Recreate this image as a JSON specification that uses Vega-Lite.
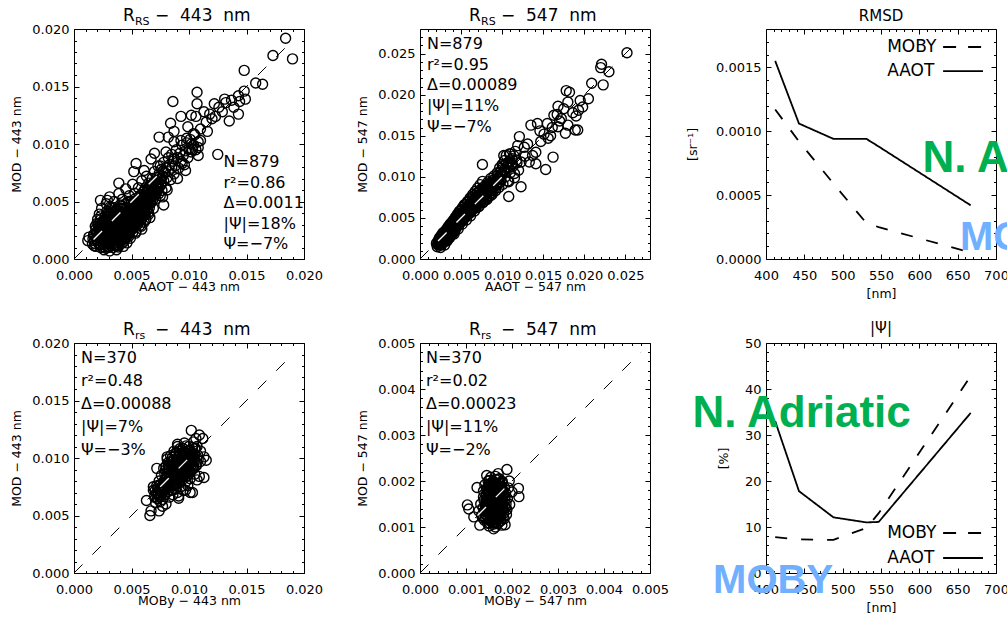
{
"$schema":"https://vega.github.io/schema/vega-lite/v6.json",
"background":"white",
"autosize":{"type":"pad"},
"padding":{"left":10,"top":6,"right":0,"bottom":0},
"config":{
 "view":{"stroke":"#000","strokeWidth":1},
 "font":"DejaVu Sans",
 "axis":{"grid":false,"domain":false,"tickColor":"#000","tickWidth":1,"labelColor":"#000","titleColor":"#000","labelFont":"DejaVu Sans","titleFont":"DejaVu Sans","labelFontSize":13,"titleFontSize":12.5,"titleFontWeight":"normal","labelOverlap":false,"labelFlush":false,"labelBound":false},
 "text":{"font":"DejaVu Sans","color":"#000"}
},
"datasets":{
"p1":[
{"x":0.0012,"y":0.0016},{"x":0.0013,"y":0.0019},{"x":0.0016,"y":0.0013},{"x":0.0017,"y":0.0021},{"x":0.0018,"y":0.0016},{"x":0.0019,"y":0.0026},{"x":0.0019,"y":0.0011},{"x":0.002,"y":0.0019},{"x":0.0021,"y":0.003},{"x":0.0021,"y":0.0014},{"x":0.0022,"y":0.0023},{"x":0.0022,"y":0.0039},{"x":0.0023,"y":0.001},{"x":0.0023,"y":0.0017},{"x":0.0024,"y":0.0027},{"x":0.0024,"y":0.0044},{"x":0.0025,"y":0.0021},{"x":0.0025,"y":0.0033},{"x":0.0026,"y":0.0013},{"x":0.0026,"y":0.0008},{"x":0.0027,"y":0.0018},{"x":0.0027,"y":0.0025},{"x":0.0027,"y":0.0037},{"x":0.0028,"y":0.0048},{"x":0.0028,"y":0.0029},{"x":0.0029,"y":0.0011},{"x":0.0029,"y":0.0021},{"x":0.003,"y":0.0016},{"x":0.003,"y":0.0033},{"x":0.003,"y":0.0041},{"x":0.0031,"y":0.0007},{"x":0.0031,"y":0.0025},{"x":0.0031,"y":0.0054},{"x":0.0032,"y":0.0019},{"x":0.0032,"y":0.0029},{"x":0.0032,"y":0.0013},{"x":0.0033,"y":0.0036},{"x":0.0033,"y":0.0045},{"x":0.0033,"y":0.0023},{"x":0.0034,"y":0.001},{"x":0.0034,"y":0.0031},{"x":0.0034,"y":0.0017},{"x":0.0035,"y":0.0027},{"x":0.0035,"y":0.004},{"x":0.0035,"y":0.005},{"x":0.0036,"y":0.0014},{"x":0.0036,"y":0.0021},{"x":0.0036,"y":0.0034},{"x":0.0037,"y":0.0008},{"x":0.0037,"y":0.0025},{"x":0.0037,"y":0.0043},{"x":0.0038,"y":0.0018},{"x":0.0038,"y":0.003},{"x":0.0038,"y":0.0037},{"x":0.0039,"y":0.0057},{"x":0.0039,"y":0.0012},{"x":0.0039,"y":0.0022},{"x":0.004,"y":0.0027},{"x":0.004,"y":0.0034},{"x":0.004,"y":0.0047},{"x":0.0041,"y":0.0016},{"x":0.0041,"y":0.0031},{"x":0.0041,"y":0.004},{"x":0.0042,"y":0.002},{"x":0.0042,"y":0.0025},{"x":0.0042,"y":0.0036},{"x":0.0042,"y":0.0052},{"x":0.0043,"y":0.0011},{"x":0.0043,"y":0.0029},{"x":0.0043,"y":0.0044},{"x":0.0044,"y":0.0018},{"x":0.0044,"y":0.0033},{"x":0.0044,"y":0.0039},{"x":0.0045,"y":0.0023},{"x":0.0045,"y":0.0048},{"x":0.0045,"y":0.0061},{"x":0.0046,"y":0.0027},{"x":0.0046,"y":0.0036},{"x":0.0046,"y":0.0014},{"x":0.0047,"y":0.0031},{"x":0.0047,"y":0.0042},{"x":0.0047,"y":0.0021},{"x":0.0048,"y":0.0038},{"x":0.0048,"y":0.0055},{"x":0.0048,"y":0.0026},{"x":0.0049,"y":0.0034},{"x":0.0049,"y":0.0045},{"x":0.0049,"y":0.0018},{"x":0.005,"y":0.003},{"x":0.005,"y":0.004},{"x":0.005,"y":0.005},{"x":0.0051,"y":0.0023},{"x":0.0051,"y":0.0036},{"x":0.0051,"y":0.0065},{"x":0.0052,"y":0.0043},{"x":0.0052,"y":0.0033},{"x":0.0052,"y":0.0028},{"x":0.0053,"y":0.0047},{"x":0.0053,"y":0.0039},{"x":0.0053,"y":0.0057},{"x":0.0054,"y":0.0031},{"x":0.0054,"y":0.0042},{"x":0.0054,"y":0.0024},{"x":0.0055,"y":0.0036},{"x":0.0055,"y":0.0051},{"x":0.0055,"y":0.0045},{"x":0.0056,"y":0.004},{"x":0.0056,"y":0.0062},{"x":0.0056,"y":0.0033},{"x":0.0057,"y":0.0048},{"x":0.0057,"y":0.0029},{"x":0.0057,"y":0.0055},{"x":0.0058,"y":0.0038},{"x":0.0058,"y":0.0044},{"x":0.0059,"y":0.0052},{"x":0.0059,"y":0.0035},{"x":0.0059,"y":0.0068},{"x":0.006,"y":0.0047},{"x":0.006,"y":0.0041},{"x":0.006,"y":0.0058},{"x":0.0061,"y":0.0032},{"x":0.0061,"y":0.005},{"x":0.0062,"y":0.0045},{"x":0.0062,"y":0.0062},{"x":0.0062,"y":0.0039},{"x":0.0063,"y":0.0054},{"x":0.0063,"y":0.0072},{"x":0.0064,"y":0.0048},{"x":0.0064,"y":0.0043},{"x":0.0064,"y":0.0059},{"x":0.0065,"y":0.0066},{"x":0.0065,"y":0.0052},{"x":0.0066,"y":0.0036},{"x":0.0066,"y":0.0057},{"x":0.0067,"y":0.0049},{"x":0.0067,"y":0.0063},{"x":0.0068,"y":0.007},{"x":0.0068,"y":0.0055},{"x":0.0069,"y":0.0044},{"x":0.0069,"y":0.006},{"x":0.007,"y":0.0067},{"x":0.007,"y":0.0076},{"x":0.0071,"y":0.0052},{"x":0.0071,"y":0.0064},{"x":0.0072,"y":0.0058},{"x":0.0072,"y":0.0071},{"x":0.0073,"y":0.0081},{"x":0.0073,"y":0.0066},{"x":0.0074,"y":0.0062},{"x":0.0074,"y":0.0074},{"x":0.0075,"y":0.0069},{"x":0.0075,"y":0.0055},{"x":0.0076,"y":0.0078},{"x":0.0076,"y":0.0065},{"x":0.0077,"y":0.0072},{"x":0.0078,"y":0.0084},{"x":0.0078,"y":0.0068},{"x":0.0079,"y":0.0075},{"x":0.008,"y":0.0062},{"x":0.008,"y":0.0079},{"x":0.0081,"y":0.0071},{"x":0.0082,"y":0.0088},{"x":0.0082,"y":0.0076},{"x":0.0083,"y":0.0082},{"x":0.0084,"y":0.0069},{"x":0.0085,"y":0.0079},{"x":0.0085,"y":0.0091},{"x":0.0086,"y":0.0085},{"x":0.0087,"y":0.0074},{"x":0.0088,"y":0.0081},{"x":0.0089,"y":0.0095},{"x":0.009,"y":0.0088},{"x":0.0091,"y":0.0079},{"x":0.0092,"y":0.0092},{"x":0.0093,"y":0.0085},{"x":0.0094,"y":0.0099},{"x":0.0095,"y":0.009},{"x":0.0096,"y":0.0082},{"x":0.0097,"y":0.0094},{"x":0.0098,"y":0.0101},{"x":0.0099,"y":0.0088},{"x":0.01,"y":0.0096},{"x":0.0101,"y":0.0104},{"x":0.0102,"y":0.0093},{"x":0.0104,"y":0.0099},{"x":0.0105,"y":0.0108},{"x":0.0106,"y":0.0095},{"x":0.0108,"y":0.0102},
{"x":0.0018,"y":0.0021},{"x":0.002,"y":0.0024},{"x":0.002,"y":0.0031},{"x":0.0022,"y":0.0027},{"x":0.0023,"y":0.0034},{"x":0.0024,"y":0.0015},{"x":0.0025,"y":0.0028},{"x":0.0026,"y":0.0019},{"x":0.0026,"y":0.0023},{"x":0.0027,"y":0.0031},{"x":0.0027,"y":0.0012},{"x":0.0028,"y":0.0016},{"x":0.0028,"y":0.0035},{"x":0.0028,"y":0.0022},{"x":0.0029,"y":0.0027},{"x":0.0029,"y":0.0039},{"x":0.003,"y":0.002},{"x":0.003,"y":0.001},{"x":0.0031,"y":0.003},{"x":0.0031,"y":0.0017},{"x":0.0031,"y":0.0045},{"x":0.0032,"y":0.0034},{"x":0.0032,"y":0.0024},{"x":0.0033,"y":0.0015},{"x":0.0033,"y":0.0028},{"x":0.0034,"y":0.0041},{"x":0.0034,"y":0.002},{"x":0.0035,"y":0.0024},{"x":0.0035,"y":0.0031},{"x":0.0035,"y":0.0012},{"x":0.0036,"y":0.0038},{"x":0.0036,"y":0.0028},{"x":0.0037,"y":0.0016},{"x":0.0037,"y":0.0033},{"x":0.0037,"y":0.002},{"x":0.0038,"y":0.0026},{"x":0.0038,"y":0.0042},{"x":0.0039,"y":0.003},{"x":0.0039,"y":0.0035},{"x":0.0039,"y":0.0017},{"x":0.004,"y":0.0021},{"x":0.004,"y":0.0039},{"x":0.0041,"y":0.0024},{"x":0.0041,"y":0.0035},{"x":0.0041,"y":0.0046},{"x":0.0042,"y":0.0029},{"x":0.0042,"y":0.0014},{"x":0.0043,"y":0.0032},{"x":0.0043,"y":0.0038},{"x":0.0043,"y":0.0022},{"x":0.0044,"y":0.0026},{"x":0.0044,"y":0.0042},{"x":0.0045,"y":0.003},{"x":0.0045,"y":0.0035},{"x":0.0045,"y":0.0018},{"x":0.0046,"y":0.004},{"x":0.0046,"y":0.0032},{"x":0.0047,"y":0.0024},{"x":0.0047,"y":0.0036},{"x":0.0047,"y":0.005},{"x":0.0048,"y":0.0029},{"x":0.0048,"y":0.0034},{"x":0.0048,"y":0.0043},{"x":0.0049,"y":0.0038},{"x":0.0049,"y":0.0025},{"x":0.005,"y":0.0033},{"x":0.005,"y":0.0046},{"x":0.0051,"y":0.0028},{"x":0.0051,"y":0.0041},{"x":0.0052,"y":0.0037},{"x":0.0052,"y":0.005},{"x":0.0053,"y":0.0034},{"x":0.0053,"y":0.0029},{"x":0.0054,"y":0.0045},{"x":0.0054,"y":0.0038},{"x":0.0055,"y":0.0041},{"x":0.0055,"y":0.0032},{"x":0.0056,"y":0.0046},{"x":0.0056,"y":0.0052},{"x":0.0057,"y":0.0036},{"x":0.0057,"y":0.0042},{"x":0.0058,"y":0.0049},{"x":0.0058,"y":0.0034},{"x":0.0059,"y":0.0043},{"x":0.0059,"y":0.0056},{"x":0.006,"y":0.0038},{"x":0.006,"y":0.0052},{"x":0.0061,"y":0.0046},{"x":0.0061,"y":0.0059},{"x":0.0062,"y":0.0049},{"x":0.0063,"y":0.0043},{"x":0.0063,"y":0.0058},{"x":0.0064,"y":0.0053},{"x":0.0065,"y":0.0047},{"x":0.0065,"y":0.0061},{"x":0.0066,"y":0.0053},{"x":0.0067,"y":0.0058},{"x":0.0068,"y":0.0062},{"x":0.0069,"y":0.0066},
{"x":0.00165,"y":0.00175},{"x":0.00185,"y":0.00135},{"x":0.00195,"y":0.00225},{"x":0.00205,"y":0.00165},{"x":0.00215,"y":0.00255},{"x":0.00225,"y":0.00125},{"x":0.00235,"y":0.00195},{"x":0.00245,"y":0.00305},{"x":0.00255,"y":0.00155},{"x":0.00265,"y":0.00245},{"x":0.00275,"y":0.00095},{"x":0.00285,"y":0.00185},{"x":0.00295,"y":0.00275},{"x":0.00305,"y":0.00365},{"x":0.00315,"y":0.00135},{"x":0.00325,"y":0.00215},{"x":0.00335,"y":0.00305},{"x":0.00345,"y":0.00385},{"x":0.00355,"y":0.00165},{"x":0.00365,"y":0.00245},{"x":0.00375,"y":0.00345},{"x":0.00385,"y":0.00105},{"x":0.00395,"y":0.00265},{"x":0.00405,"y":0.00185},{"x":0.00415,"y":0.00375},{"x":0.00425,"y":0.00275},{"x":0.00435,"y":0.00155},{"x":0.00445,"y":0.00355},{"x":0.00455,"y":0.00255},{"x":0.00465,"y":0.00445},{"x":0.00475,"y":0.00195},{"x":0.00485,"y":0.00315},{"x":0.00495,"y":0.00415},{"x":0.00505,"y":0.00265},{"x":0.00515,"y":0.00485},{"x":0.00525,"y":0.00365},{"x":0.00535,"y":0.00225},{"x":0.00545,"y":0.00435},{"x":0.00555,"y":0.00305},{"x":0.00565,"y":0.00505},{"x":0.00575,"y":0.00395},{"x":0.00585,"y":0.00285},{"x":0.00595,"y":0.00475},{"x":0.00605,"y":0.00545},{"x":0.00615,"y":0.00425},{"x":0.00625,"y":0.00345},{"x":0.00635,"y":0.00515},{"x":0.00645,"y":0.00605},{"x":0.00655,"y":0.00445},{"x":0.00665,"y":0.00545},
{"x":0.00175,"y":0.00115},{"x":0.00185,"y":0.00285},{"x":0.00205,"y":0.00345},{"x":0.00215,"y":0.00195},{"x":0.00225,"y":0.00295},{"x":0.00235,"y":0.00375},{"x":0.00245,"y":0.00235},{"x":0.00255,"y":0.00105},{"x":0.00265,"y":0.00335},{"x":0.00275,"y":0.00205},{"x":0.00285,"y":0.00415},{"x":0.00295,"y":0.00135},{"x":0.00305,"y":0.00245},{"x":0.00315,"y":0.00325},{"x":0.00325,"y":0.00405},{"x":0.00335,"y":0.00185},{"x":0.00345,"y":0.00265},{"x":0.00355,"y":0.00445},{"x":0.00365,"y":0.00115},{"x":0.00375,"y":0.00285},{"x":0.00385,"y":0.00395},{"x":0.00395,"y":0.00205},{"x":0.00405,"y":0.00325},{"x":0.00415,"y":0.00435},{"x":0.00425,"y":0.00225},{"x":0.00435,"y":0.00345},{"x":0.00445,"y":0.00285},{"x":0.00455,"y":0.00385},{"x":0.00465,"y":0.00225},{"x":0.00475,"y":0.00335},{"x":0.00485,"y":0.00495},{"x":0.00495,"y":0.00285},{"x":0.00505,"y":0.00375},{"x":0.00515,"y":0.00315},{"x":0.00525,"y":0.00435},{"x":0.00535,"y":0.00525},{"x":0.00545,"y":0.00345},{"x":0.00555,"y":0.00395},{"x":0.00565,"y":0.00455},{"x":0.00575,"y":0.00335},{"x":0.00585,"y":0.00525},{"x":0.00595,"y":0.00405},{"x":0.00605,"y":0.00455},{"x":0.00615,"y":0.00385},{"x":0.00625,"y":0.00555},{"x":0.00635,"y":0.00465},{"x":0.00645,"y":0.00405},{"x":0.00655,"y":0.00625},{"x":0.00665,"y":0.00495},{"x":0.00675,"y":0.00575},{"x":0.00685,"y":0.00515},{"x":0.00695,"y":0.00615},{"x":0.00705,"y":0.00555},{"x":0.00715,"y":0.00685},{"x":0.00725,"y":0.00615},{"x":0.00735,"y":0.00565},{"x":0.00745,"y":0.00715},{"x":0.00755,"y":0.00645},{"x":0.00765,"y":0.00595},{"x":0.00775,"y":0.00765},
{"x":0.00255,"y":0.00205},{"x":0.00265,"y":0.00285},{"x":0.00275,"y":0.00165},{"x":0.00285,"y":0.00255},{"x":0.00295,"y":0.00325},{"x":0.00305,"y":0.00195},{"x":0.00315,"y":0.00285},{"x":0.00325,"y":0.00165},{"x":0.00335,"y":0.00255},{"x":0.00345,"y":0.00345},{"x":0.00355,"y":0.00205},{"x":0.00365,"y":0.00295},{"x":0.00375,"y":0.00225},{"x":0.00385,"y":0.00325},{"x":0.00395,"y":0.00145},{"x":0.00405,"y":0.00245},{"x":0.00415,"y":0.00305},{"x":0.00425,"y":0.00195},{"x":0.00435,"y":0.00265},{"x":0.00445,"y":0.00215},{"x":0.00455,"y":0.00325},{"x":0.00465,"y":0.00295},{"x":0.00475,"y":0.00395},{"x":0.00485,"y":0.00235},{"x":0.00495,"y":0.00345},{"x":0.00505,"y":0.00425},{"x":0.00515,"y":0.00265},{"x":0.00525,"y":0.00325},{"x":0.00535,"y":0.00385},{"x":0.00545,"y":0.00475},{"x":0.00555,"y":0.00355},{"x":0.00565,"y":0.00415},{"x":0.00575,"y":0.00465},{"x":0.00585,"y":0.00375},{"x":0.00595,"y":0.00435},
{"x":0.0021,"y":0.002},{"x":0.0023,"y":0.0022},{"x":0.0024,"y":0.0018},{"x":0.0025,"y":0.0025},{"x":0.0026,"y":0.0021},{"x":0.0027,"y":0.0016},{"x":0.0028,"y":0.0026},{"x":0.0029,"y":0.0018},{"x":0.003,"y":0.0024},{"x":0.0031,"y":0.0021},{"x":0.0032,"y":0.0016},{"x":0.0032,"y":0.0027},{"x":0.0033,"y":0.0032},{"x":0.0034,"y":0.0025},{"x":0.0034,"y":0.0013},{"x":0.0035,"y":0.0019},{"x":0.0035,"y":0.0029},{"x":0.0036,"y":0.0024},{"x":0.0037,"y":0.003},{"x":0.0037,"y":0.0012},{"x":0.0038,"y":0.0022},{"x":0.0038,"y":0.0034},{"x":0.0039,"y":0.0027},{"x":0.004,"y":0.0024},{"x":0.004,"y":0.0031},{"x":0.0041,"y":0.002},{"x":0.0041,"y":0.0028},{"x":0.0042,"y":0.0033},{"x":0.0043,"y":0.0026},{"x":0.0043,"y":0.0017},{"x":0.0044,"y":0.003},{"x":0.0044,"y":0.0036},{"x":0.0045,"y":0.0027},{"x":0.0046,"y":0.003},{"x":0.0046,"y":0.0021},{"x":0.0047,"y":0.0034},{"x":0.0047,"y":0.0028},{"x":0.0048,"y":0.0032},{"x":0.0049,"y":0.0029},{"x":0.0049,"y":0.0041},{"x":0.005,"y":0.0036},{"x":0.005,"y":0.0026},{"x":0.0051,"y":0.0032},{"x":0.0052,"y":0.004},{"x":0.0053,"y":0.0043},{"x":0.0054,"y":0.0035},{"x":0.0055,"y":0.0048},{"x":0.0056,"y":0.0037},{"x":0.0057,"y":0.0045},{"x":0.0058,"y":0.0041},{"x":0.006,"y":0.0044},{"x":0.0061,"y":0.004},{"x":0.0062,"y":0.0052},{"x":0.0064,"y":0.005},{"x":0.0066,"y":0.0049},{"x":0.0068,"y":0.0058},{"x":0.007,"y":0.006},{"x":0.0072,"y":0.0063},{"x":0.0074,"y":0.0067},{"x":0.0076,"y":0.007},
{"x":0.0184,"y":0.0192},{"x":0.019,"y":0.0174},{"x":0.0173,"y":0.0177},{"x":0.0148,"y":0.0164},{"x":0.0158,"y":0.0153},{"x":0.0164,"y":0.0152},{"x":0.0148,"y":0.0146},{"x":0.0143,"y":0.0142},{"x":0.0149,"y":0.0139},{"x":0.0144,"y":0.0137},{"x":0.0131,"y":0.0139},{"x":0.0132,"y":0.0136},{"x":0.0139,"y":0.0132},{"x":0.0143,"y":0.0126},{"x":0.0135,"y":0.012},{"x":0.0126,"y":0.0132},{"x":0.0122,"y":0.0135},{"x":0.0118,"y":0.0126},{"x":0.0123,"y":0.0124},{"x":0.0115,"y":0.0119},{"x":0.0107,"y":0.0145},{"x":0.0107,"y":0.0135},{"x":0.0086,"y":0.0137},{"x":0.0102,"y":0.0125},{"x":0.0093,"y":0.0124},{"x":0.0084,"y":0.0118},{"x":0.0087,"y":0.0111},{"x":0.0099,"y":0.0115},{"x":0.0106,"y":0.0124},{"x":0.0104,"y":0.0109},{"x":0.011,"y":0.0113},{"x":0.011,"y":0.0103},{"x":0.0108,"y":0.0097},{"x":0.0102,"y":0.01},{"x":0.0098,"y":0.0105},{"x":0.0093,"y":0.0103},{"x":0.0074,"y":0.0106},{"x":0.0082,"y":0.0106},{"x":0.0087,"y":0.0102},{"x":0.0125,"y":0.0091},{"x":0.0108,"y":0.009},{"x":0.0103,"y":0.0095},{"x":0.007,"y":0.0092},{"x":0.0054,"y":0.0083},{"x":0.009,"y":0.007},{"x":0.0097,"y":0.0077},{"x":0.0094,"y":0.0083},{"x":0.0077,"y":0.0054},{"x":0.0078,"y":0.0047},{"x":0.0071,"y":0.0057},{"x":0.0072,"y":0.0066},{"x":0.0081,"y":0.006},{"x":0.0065,"y":0.0039},{"x":0.0062,"y":0.0034},{"x":0.0059,"y":0.0026},{"x":0.0052,"y":0.0076},{"x":0.0061,"y":0.0077},{"x":0.0067,"y":0.0087},{"x":0.008,"y":0.0093},{"x":0.0075,"y":0.0081},{"x":0.0087,"y":0.0087},{"x":0.0039,"y":0.0066},{"x":0.0023,"y":0.0051},{"x":0.0029,"y":0.0051},{"x":0.0113,"y":0.0128},{"x":0.0129,"y":0.0128},{"x":0.0137,"y":0.0138},{"x":0.0116,"y":0.0111},{"x":0.012,"y":0.0122}
],
"p2":[
{"x":0.002,"y":0.0019},{"x":0.0021,"y":0.0015},{"x":0.0022,"y":0.0022},{"x":0.0023,"y":0.0017},{"x":0.0024,"y":0.0026},{"x":0.0024,"y":0.002},{"x":0.0025,"y":0.0014},{"x":0.0026,"y":0.0023},{"x":0.0026,"y":0.0029},{"x":0.0027,"y":0.0019},{"x":0.0028,"y":0.0025},{"x":0.0028,"y":0.0032},{"x":0.0029,"y":0.0021},{"x":0.003,"y":0.0028},{"x":0.003,"y":0.0017},{"x":0.0031,"y":0.0034},{"x":0.0031,"y":0.0024},{"x":0.0032,"y":0.003},{"x":0.0033,"y":0.0022},{"x":0.0033,"y":0.0037},{"x":0.0034,"y":0.0027},{"x":0.0034,"y":0.0033},{"x":0.0035,"y":0.0025},{"x":0.0035,"y":0.004},{"x":0.0036,"y":0.003},{"x":0.0036,"y":0.0036},{"x":0.0037,"y":0.0028},{"x":0.0037,"y":0.0043},{"x":0.0038,"y":0.0033},{"x":0.0038,"y":0.0039},{"x":0.0039,"y":0.0031},{"x":0.004,"y":0.0036},{"x":0.004,"y":0.0046},{"x":0.0041,"y":0.0041},{"x":0.0041,"y":0.0033},{"x":0.0042,"y":0.0038},{"x":0.0042,"y":0.0049},{"x":0.0043,"y":0.0044},{"x":0.0043,"y":0.0036},{"x":0.0044,"y":0.0041},{"x":0.0044,"y":0.0052},{"x":0.0045,"y":0.0047},{"x":0.0045,"y":0.0039},{"x":0.0046,"y":0.0044},{"x":0.0046,"y":0.0055},{"x":0.0047,"y":0.0049},{"x":0.0047,"y":0.0041},{"x":0.0048,"y":0.0046},{"x":0.0048,"y":0.0058},{"x":0.0049,"y":0.0052},{"x":0.0049,"y":0.0044},{"x":0.005,"y":0.0049},{"x":0.005,"y":0.006},{"x":0.0051,"y":0.0055},{"x":0.0051,"y":0.0046},{"x":0.0052,"y":0.0051},{"x":0.0052,"y":0.0063},{"x":0.0053,"y":0.0057},{"x":0.0053,"y":0.0048},{"x":0.0054,"y":0.0054},{"x":0.0054,"y":0.0066},{"x":0.0055,"y":0.006},{"x":0.0055,"y":0.0051},{"x":0.0056,"y":0.0056},{"x":0.0057,"y":0.0062},{"x":0.0057,"y":0.0053},{"x":0.0058,"y":0.0069},{"x":0.0058,"y":0.0058},{"x":0.0059,"y":0.0064},{"x":0.006,"y":0.0055},{"x":0.006,"y":0.0061},{"x":0.0061,"y":0.0072},{"x":0.0061,"y":0.0066},{"x":0.0062,"y":0.0058},{"x":0.0063,"y":0.0063},{"x":0.0063,"y":0.0069},{"x":0.0064,"y":0.0075},{"x":0.0064,"y":0.006},{"x":0.0065,"y":0.0066},{"x":0.0066,"y":0.0071},{"x":0.0066,"y":0.0063},{"x":0.0067,"y":0.0078},{"x":0.0068,"y":0.0068},{"x":0.0068,"y":0.0062},{"x":0.0069,"y":0.0074},{"x":0.007,"y":0.0066},{"x":0.007,"y":0.0081},{"x":0.0071,"y":0.0071},{"x":0.0072,"y":0.0077},{"x":0.0072,"y":0.0065},{"x":0.0073,"y":0.0084},{"x":0.0074,"y":0.0073},{"x":0.0074,"y":0.0069},{"x":0.0075,"y":0.008},{"x":0.0076,"y":0.0076},{"x":0.0077,"y":0.0087},{"x":0.0077,"y":0.007},{"x":0.0078,"y":0.0082},{"x":0.0079,"y":0.0078},{"x":0.008,"y":0.009},{"x":0.008,"y":0.0073},{"x":0.0081,"y":0.0085},{"x":0.0082,"y":0.008},{"x":0.0083,"y":0.0094},{"x":0.0084,"y":0.0076},{"x":0.0084,"y":0.0088},{"x":0.0085,"y":0.0083},{"x":0.0086,"y":0.0098},{"x":0.0087,"y":0.0091},{"x":0.0088,"y":0.0079},{"x":0.0089,"y":0.0086},{"x":0.009,"y":0.0101},{"x":0.0091,"y":0.0094},{"x":0.0092,"y":0.0083},{"x":0.0093,"y":0.009},{"x":0.0094,"y":0.0105},{"x":0.0095,"y":0.0097},{"x":0.0096,"y":0.0087},{"x":0.0097,"y":0.0111},{"x":0.0098,"y":0.0094},{"x":0.0099,"y":0.0103},{"x":0.01,"y":0.0115},{"x":0.0101,"y":0.0091},{"x":0.0102,"y":0.0108},{"x":0.0103,"y":0.012},{"x":0.0104,"y":0.01},{"x":0.0105,"y":0.0126},{"x":0.0106,"y":0.0112},{"x":0.0107,"y":0.0095},{"x":0.0108,"y":0.0118},{"x":0.0109,"y":0.0128},{"x":0.011,"y":0.0105},{"x":0.0112,"y":0.0122},{"x":0.0113,"y":0.0113},{"x":0.0115,"y":0.0099},{"x":0.0116,"y":0.0131},{"x":0.0118,"y":0.0117},{"x":0.012,"y":0.0108},
{"x":0.0022,"y":0.0019},{"x":0.0023,"y":0.0024},{"x":0.0025,"y":0.0021},{"x":0.0026,"y":0.0017},{"x":0.0027,"y":0.0027},{"x":0.0029,"y":0.0024},{"x":0.0029,"y":0.003},{"x":0.003,"y":0.0022},{"x":0.0032,"y":0.0026},{"x":0.0032,"y":0.0035},{"x":0.0033,"y":0.0029},{"x":0.0035,"y":0.0032},{"x":0.0036,"y":0.0027},{"x":0.0037,"y":0.0037},{"x":0.0038,"y":0.003},{"x":0.0039,"y":0.0042},{"x":0.004,"y":0.0034},{"x":0.0041,"y":0.0038},{"x":0.0042,"y":0.0044},{"x":0.0043,"y":0.004},{"x":0.0044,"y":0.0047},{"x":0.0045,"y":0.0043},{"x":0.0046,"y":0.005},{"x":0.0047,"y":0.0045},{"x":0.0048,"y":0.0052},{"x":0.0049,"y":0.0048},{"x":0.005,"y":0.0054},{"x":0.0051,"y":0.005},{"x":0.0052,"y":0.0057},{"x":0.0053,"y":0.0053},{"x":0.0054,"y":0.0059},{"x":0.0055,"y":0.0056},{"x":0.0056,"y":0.0062},{"x":0.0057,"y":0.0058},{"x":0.0058,"y":0.0064},{"x":0.0059,"y":0.006},{"x":0.006,"y":0.0067},{"x":0.0061,"y":0.0062},{"x":0.0062,"y":0.0069},{"x":0.0063,"y":0.0065},{"x":0.0065,"y":0.0071},{"x":0.0066,"y":0.0068},{"x":0.0067,"y":0.0073},{"x":0.0069,"y":0.007},{"x":0.007,"y":0.0076},{"x":0.0071,"y":0.0068},{"x":0.0072,"y":0.0074},{"x":0.0074,"y":0.0078},{"x":0.0075,"y":0.0074},{"x":0.0076,"y":0.0083},{"x":0.0078,"y":0.0077},{"x":0.0079,"y":0.0084},{"x":0.0081,"y":0.0079},{"x":0.0082,"y":0.0089},{"x":0.0083,"y":0.0085},{"x":0.0085,"y":0.0092},{"x":0.0087,"y":0.0087},{"x":0.0089,"y":0.0096},
{"x":0.00215,"y":0.00175},{"x":0.00235,"y":0.00225},{"x":0.00245,"y":0.00175},{"x":0.00255,"y":0.00245},{"x":0.00265,"y":0.00205},{"x":0.00275,"y":0.00275},{"x":0.00285,"y":0.00215},{"x":0.00295,"y":0.00265},{"x":0.00305,"y":0.00315},{"x":0.00315,"y":0.00255},{"x":0.00325,"y":0.00305},{"x":0.00335,"y":0.00245},{"x":0.00345,"y":0.00355},{"x":0.00355,"y":0.00295},{"x":0.00365,"y":0.00335},{"x":0.00375,"y":0.00395},{"x":0.00385,"y":0.00355},{"x":0.00395,"y":0.00305},{"x":0.00405,"y":0.00415},{"x":0.00415,"y":0.00365},{"x":0.00425,"y":0.00405},{"x":0.00435,"y":0.00465},{"x":0.00445,"y":0.00395},{"x":0.00455,"y":0.00435},{"x":0.00465,"y":0.00495},{"x":0.00475,"y":0.00425},{"x":0.00485,"y":0.00485},{"x":0.00495,"y":0.00535},{"x":0.00505,"y":0.00465},{"x":0.00515,"y":0.00525},{"x":0.00525,"y":0.00485},{"x":0.00535,"y":0.00565},{"x":0.00545,"y":0.00505},{"x":0.00555,"y":0.00575},{"x":0.00565,"y":0.00535},{"x":0.00575,"y":0.00615},{"x":0.00585,"y":0.00555},{"x":0.00595,"y":0.00595},{"x":0.00605,"y":0.00645},{"x":0.00615,"y":0.00595},{"x":0.00625,"y":0.00635},{"x":0.00635,"y":0.00685},{"x":0.00645,"y":0.00625},{"x":0.00655,"y":0.00695},{"x":0.00665,"y":0.00655},{"x":0.00675,"y":0.00705},{"x":0.00685,"y":0.00655},{"x":0.00695,"y":0.00745},{"x":0.00705,"y":0.00715},{"x":0.00715,"y":0.00755},{"x":0.00725,"y":0.00705},{"x":0.00735,"y":0.00795},{"x":0.00745,"y":0.00755},{"x":0.00755,"y":0.00815},{"x":0.00765,"y":0.00735},{"x":0.00775,"y":0.00805},{"x":0.00785,"y":0.00855},{"x":0.00795,"y":0.00785},{"x":0.00805,"y":0.00845},{"x":0.00815,"y":0.00765},{"x":0.00825,"y":0.00865},{"x":0.00835,"y":0.00815},{"x":0.00845,"y":0.00905},{"x":0.00855,"y":0.00865},{"x":0.00865,"y":0.00805},{"x":0.00875,"y":0.00935},{"x":0.00885,"y":0.00875},{"x":0.00895,"y":0.00925},{"x":0.00905,"y":0.00845},{"x":0.00915,"y":0.00975},{"x":0.00925,"y":0.00895},{"x":0.00935,"y":0.00955},{"x":0.00945,"y":0.01015},{"x":0.00955,"y":0.00915},{"x":0.00965,"y":0.00995},{"x":0.00975,"y":0.01055},{"x":0.00985,"y":0.00975},{"x":0.00995,"y":0.01085},{"x":0.01005,"y":0.01035},{"x":0.01015,"y":0.01135},{"x":0.01035,"y":0.01065},{"x":0.01055,"y":0.01165},{"x":0.01075,"y":0.01105},{"x":0.01095,"y":0.01195},{"x":0.01125,"y":0.01155},{"x":0.01145,"y":0.01255},{"x":0.01175,"y":0.01205},{"x":0.00282,"y":0.00305},{"x":0.00312,"y":0.00345},{"x":0.00342,"y":0.00385},{"x":0.00372,"y":0.00425},{"x":0.00402,"y":0.00465},{"x":0.00432,"y":0.00505},{"x":0.00462,"y":0.00545},{"x":0.00492,"y":0.00585},{"x":0.00522,"y":0.00625},{"x":0.00552,"y":0.00665},{"x":0.00582,"y":0.00705},{"x":0.00612,"y":0.00745},{"x":0.00642,"y":0.00785},{"x":0.00672,"y":0.00825},{"x":0.00702,"y":0.00865},{"x":0.00732,"y":0.00905},{"x":0.00762,"y":0.00945},{"x":0.00315,"y":0.00225},{"x":0.00365,"y":0.00265},{"x":0.00415,"y":0.00305},{"x":0.00465,"y":0.00365},{"x":0.00515,"y":0.00425},{"x":0.00565,"y":0.00475},{"x":0.00615,"y":0.00525},{"x":0.00665,"y":0.00585},{"x":0.00715,"y":0.00635},{"x":0.00765,"y":0.00685},{"x":0.00815,"y":0.00725},{"x":0.00865,"y":0.00775},
{"x":0.0023,"y":0.002},{"x":0.0025,"y":0.0023},{"x":0.0027,"y":0.0022},{"x":0.0028,"y":0.0028},{"x":0.003,"y":0.0025},{"x":0.0031,"y":0.0029},{"x":0.0033,"y":0.0027},{"x":0.0034,"y":0.003},{"x":0.0036,"y":0.0033},{"x":0.0037,"y":0.0031},{"x":0.0039,"y":0.0036},{"x":0.004,"y":0.0039},{"x":0.0042,"y":0.0041},{"x":0.0043,"y":0.0038},{"x":0.0045,"y":0.0045},{"x":0.0046,"y":0.0042},{"x":0.0048,"y":0.0049},{"x":0.0049,"y":0.0046},{"x":0.0051,"y":0.0052},{"x":0.0052,"y":0.0049},{"x":0.0054,"y":0.0056},{"x":0.0055,"y":0.0053},{"x":0.0057,"y":0.006},{"x":0.0058,"y":0.0056},{"x":0.006,"y":0.0063},{"x":0.0061,"y":0.0059},{"x":0.0063,"y":0.0067},{"x":0.0064,"y":0.0063},{"x":0.0066,"y":0.0069},{"x":0.0067,"y":0.0066},{"x":0.0069,"y":0.0072},{"x":0.007,"y":0.007},{"x":0.0072,"y":0.0076},{"x":0.0073,"y":0.0072},{"x":0.0075,"y":0.0078},{"x":0.0077,"y":0.008},{"x":0.008,"y":0.0083},{"x":0.0083,"y":0.0087},{"x":0.0086,"y":0.009},{"x":0.009,"y":0.0093},
{"x":0.0252,"y":0.0251},{"x":0.0221,"y":0.0237},{"x":0.022,"y":0.0233},{"x":0.023,"y":0.0228},{"x":0.0223,"y":0.0212},{"x":0.0209,"y":0.0214},{"x":0.0205,"y":0.0195},{"x":0.0193,"y":0.0181},{"x":0.0189,"y":0.0157},{"x":0.0192,"y":0.0157},{"x":0.0178,"y":0.0205},{"x":0.0182,"y":0.0203},{"x":0.018,"y":0.0191},{"x":0.0168,"y":0.0186},{"x":0.0198,"y":0.0185},{"x":0.019,"y":0.0174},{"x":0.0172,"y":0.0171},{"x":0.0163,"y":0.0175},{"x":0.0155,"y":0.0165},{"x":0.0168,"y":0.0161},{"x":0.0177,"y":0.0153},{"x":0.018,"y":0.0163},{"x":0.0143,"y":0.0165},{"x":0.0135,"y":0.0163},{"x":0.0151,"y":0.0152},{"x":0.0147,"y":0.0143},{"x":0.0162,"y":0.0124},{"x":0.0153,"y":0.0109},{"x":0.0141,"y":0.013},{"x":0.0133,"y":0.0118},{"x":0.0123,"y":0.0118},{"x":0.0121,"y":0.0149},{"x":0.0119,"y":0.0138},{"x":0.0127,"y":0.0136},{"x":0.0141,"y":0.0116},{"x":0.0123,"y":0.0088},{"x":0.0108,"y":0.0076},{"x":0.0076,"y":0.0115},{"x":0.0115,"y":0.0104},{"x":0.011,"y":0.0128},{"x":0.0102,"y":0.0126},{"x":0.0108,"y":0.0094},{"x":0.0159,"y":0.015},{"x":0.017,"y":0.0168},{"x":0.0186,"y":0.0178},{"x":0.0161,"y":0.016},{"x":0.0131,"y":0.014},{"x":0.0137,"y":0.0126},{"x":0.0128,"y":0.0125},{"x":0.0146,"y":0.0156},{"x":0.0156,"y":0.0147},{"x":0.0175,"y":0.0183},{"x":0.0195,"y":0.0193},{"x":0.0167,"y":0.0176}
],
"p4":[
{"x":0.0066,"y":0.005},{"x":0.0067,"y":0.0054},{"x":0.0063,"y":0.0063},{"x":0.0074,"y":0.0054},{"x":0.0069,"y":0.0072},{"x":0.007,"y":0.0066},{"x":0.0071,"y":0.0061},{"x":0.0072,"y":0.007},{"x":0.0072,"y":0.0076},{"x":0.0073,"y":0.0065},{"x":0.0074,"y":0.0072},{"x":0.0074,"y":0.008},{"x":0.0075,"y":0.0062},{"x":0.0075,"y":0.0068},{"x":0.0076,"y":0.0075},{"x":0.0076,"y":0.0085},{"x":0.0077,"y":0.0071},{"x":0.0077,"y":0.0064},{"x":0.0078,"y":0.0079},{"x":0.0078,"y":0.0091},{"x":0.0079,"y":0.0068},{"x":0.0079,"y":0.0074},{"x":0.008,"y":0.0083},{"x":0.008,"y":0.006},{"x":0.0081,"y":0.0077},{"x":0.0081,"y":0.0099},{"x":0.0081,"y":0.0088},{"x":0.0082,"y":0.0071},{"x":0.0082,"y":0.0081},{"x":0.0083,"y":0.0066},{"x":0.0083,"y":0.0093},{"x":0.0083,"y":0.0076},{"x":0.0084,"y":0.0085},{"x":0.0084,"y":0.0102},{"x":0.0085,"y":0.0072},{"x":0.0085,"y":0.008},{"x":0.0085,"y":0.009},{"x":0.0086,"y":0.0097},{"x":0.0086,"y":0.0068},{"x":0.0087,"y":0.0084},{"x":0.0087,"y":0.0077},{"x":0.0087,"y":0.0106},{"x":0.0088,"y":0.0093},{"x":0.0088,"y":0.0088},{"x":0.0088,"y":0.0073},{"x":0.0089,"y":0.0081},{"x":0.0089,"y":0.0099},{"x":0.009,"y":0.0086},{"x":0.009,"y":0.011},{"x":0.009,"y":0.007},{"x":0.0091,"y":0.0078},{"x":0.0091,"y":0.0092},{"x":0.0091,"y":0.0067},{"x":0.0092,"y":0.0084},{"x":0.0092,"y":0.0103},{"x":0.0093,"y":0.0096},{"x":0.0093,"y":0.0075},{"x":0.0093,"y":0.0089},{"x":0.0094,"y":0.0081},{"x":0.0094,"y":0.0107},{"x":0.0095,"y":0.0093},{"x":0.0095,"y":0.01},{"x":0.0095,"y":0.0072},{"x":0.0096,"y":0.0086},{"x":0.0096,"y":0.0113},{"x":0.0097,"y":0.0079},{"x":0.0097,"y":0.0097},{"x":0.0097,"y":0.009},{"x":0.0098,"y":0.0104},{"x":0.0098,"y":0.0084},{"x":0.0099,"y":0.0094},{"x":0.0099,"y":0.0076},{"x":0.01,"y":0.01},{"x":0.01,"y":0.011},{"x":0.01,"y":0.0088},{"x":0.0101,"y":0.0082},{"x":0.0101,"y":0.0096},{"x":0.0102,"y":0.0124},{"x":0.0102,"y":0.0105},{"x":0.0103,"y":0.0091},{"x":0.0103,"y":0.007},{"x":0.0104,"y":0.0099},{"x":0.0104,"y":0.0114},{"x":0.0105,"y":0.0086},{"x":0.0105,"y":0.0103},{"x":0.0106,"y":0.0117},{"x":0.0106,"y":0.0094},{"x":0.0107,"y":0.011},{"x":0.0107,"y":0.0081},{"x":0.0108,"y":0.0099},{"x":0.0109,"y":0.012},{"x":0.0109,"y":0.0084},{"x":0.011,"y":0.0097},{"x":0.011,"y":0.0106},{"x":0.0112,"y":0.0117},{"x":0.0113,"y":0.0101},{"x":0.0115,"y":0.0098},{"x":0.0081,"y":0.0101},{"x":0.009,"y":0.0112},{"x":0.0072,"y":0.0091},{"x":0.0069,"y":0.0075},{"x":0.0077,"y":0.0058},{"x":0.0091,"y":0.0065},{"x":0.0097,"y":0.0072},{"x":0.0101,"y":0.007},{"x":0.0113,"y":0.0083},
{"x":0.008,"y":0.0079},{"x":0.0082,"y":0.0087},{"x":0.0083,"y":0.0082},{"x":0.0084,"y":0.0078},{"x":0.0085,"y":0.0094},{"x":0.0086,"y":0.0088},{"x":0.0086,"y":0.0082},{"x":0.0087,"y":0.0091},{"x":0.0088,"y":0.0085},{"x":0.0088,"y":0.0079},{"x":0.0089,"y":0.0095},{"x":0.0089,"y":0.0089},{"x":0.009,"y":0.0083},{"x":0.009,"y":0.0097},{"x":0.0091,"y":0.0087},{"x":0.0091,"y":0.0101},{"x":0.0092,"y":0.0094},{"x":0.0092,"y":0.008},{"x":0.0093,"y":0.0086},{"x":0.0093,"y":0.01},{"x":0.0094,"y":0.0091},{"x":0.0094,"y":0.0096},{"x":0.0095,"y":0.0085},{"x":0.0095,"y":0.0105},{"x":0.0096,"y":0.0091},{"x":0.0096,"y":0.0098},{"x":0.0097,"y":0.0086},{"x":0.0098,"y":0.0092},{"x":0.0098,"y":0.0099},{"x":0.0099,"y":0.0106},{"x":0.0099,"y":0.0086},{"x":0.01,"y":0.0093},{"x":0.0101,"y":0.0102},{"x":0.0102,"y":0.009},{"x":0.0102,"y":0.0097},{"x":0.0103,"y":0.0109},{"x":0.0104,"y":0.0093},{"x":0.0105,"y":0.0108},{"x":0.0079,"y":0.0086},{"x":0.0078,"y":0.0072},{"x":0.0076,"y":0.0068},{"x":0.0075,"y":0.0077},{"x":0.0073,"y":0.0069},{"x":0.0082,"y":0.0094},{"x":0.0084,"y":0.0096},{"x":0.008,"y":0.0093},{"x":0.0087,"y":0.0099},{"x":0.0089,"y":0.0104},{"x":0.0092,"y":0.0108},
{"x":0.00805,"y":0.00825},{"x":0.00815,"y":0.00755},{"x":0.00825,"y":0.00905},{"x":0.00835,"y":0.00855},{"x":0.00845,"y":0.00805},{"x":0.00855,"y":0.00935},{"x":0.00865,"y":0.00865},{"x":0.00875,"y":0.00815},{"x":0.00885,"y":0.00965},{"x":0.00895,"y":0.00905},{"x":0.00905,"y":0.00855},{"x":0.00915,"y":0.00985},{"x":0.00925,"y":0.00925},{"x":0.00935,"y":0.00875},{"x":0.00945,"y":0.01015},{"x":0.00955,"y":0.00955},{"x":0.00965,"y":0.00895},{"x":0.00975,"y":0.01045},{"x":0.00985,"y":0.00985},{"x":0.00995,"y":0.00925},{"x":0.01005,"y":0.01065},{"x":0.01015,"y":0.00995},{"x":0.01025,"y":0.00945},{"x":0.01035,"y":0.01035},{"x":0.01045,"y":0.00975},{"x":0.01055,"y":0.01085},{"x":0.00785,"y":0.00805},{"x":0.00775,"y":0.00745},{"x":0.00765,"y":0.00705},{"x":0.00755,"y":0.00725},{"x":0.00745,"y":0.00665},{"x":0.00735,"y":0.00755},{"x":0.00725,"y":0.00645},{"x":0.00715,"y":0.00685},{"x":0.00705,"y":0.00715},{"x":0.00795,"y":0.00895},{"x":0.00825,"y":0.00965},{"x":0.00855,"y":0.01005},{"x":0.00885,"y":0.01045},{"x":0.00915,"y":0.01055},{"x":0.00945,"y":0.01085},{"x":0.00975,"y":0.01105},{"x":0.00825,"y":0.00725},{"x":0.00855,"y":0.00755},{"x":0.00885,"y":0.00775},{"x":0.00915,"y":0.00815},{"x":0.00945,"y":0.00835},{"x":0.00975,"y":0.00865},{"x":0.01005,"y":0.00885},{"x":0.01035,"y":0.00905},{"x":0.01065,"y":0.00935},{"x":0.01075,"y":0.01025},{"x":0.00865,"y":0.00925},{"x":0.00895,"y":0.00965},{"x":0.00935,"y":0.00985},{"x":0.00965,"y":0.01015},{"x":0.00905,"y":0.00915},{"x":0.00875,"y":0.00885},{"x":0.00845,"y":0.00865},{"x":0.00955,"y":0.00965},{"x":0.00995,"y":0.01015},{"x":0.00925,"y":0.00865},{"x":0.00965,"y":0.00935},
{"x":0.0085,"y":0.0085},{"x":0.0088,"y":0.009},{"x":0.009,"y":0.0092},{"x":0.0092,"y":0.009},{"x":0.0094,"y":0.0094},{"x":0.0096,"y":0.0095},{"x":0.0098,"y":0.0097},{"x":0.01,"y":0.0098},{"x":0.0093,"y":0.0098},{"x":0.0097,"y":0.0102},{"x":0.0091,"y":0.0083},{"x":0.0095,"y":0.0088},{"x":0.0099,"y":0.0091},{"x":0.0087,"y":0.0081},{"x":0.0083,"y":0.0079},{"x":0.0081,"y":0.0084},{"x":0.0079,"y":0.0078},{"x":0.0077,"y":0.0074},{"x":0.0086,"y":0.0092},{"x":0.009,"y":0.0095},{"x":0.0101,"y":0.0099},{"x":0.0103,"y":0.0101},{"x":0.0089,"y":0.0087},{"x":0.0094,"y":0.0088}
],
"p5":[
{"x":0.00103,"y":0.00148},{"x":0.00106,"y":0.00139},{"x":0.00117,"y":0.00122},{"x":0.0013,"y":0.00104},{"x":0.00164,"y":0.001},{"x":0.0016,"y":0.00096},{"x":0.00178,"y":0.00104},{"x":0.00189,"y":0.00225},{"x":0.00214,"y":0.00184},{"x":0.00215,"y":0.00166},{"x":0.00194,"y":0.002},{"x":0.00195,"y":0.00149},{"x":0.00189,"y":0.00138},{"x":0.00124,"y":0.00186},{"x":0.00154,"y":0.00208},{"x":0.00164,"y":0.0021},{"x":0.0017,"y":0.00216},{"x":0.00145,"y":0.00212},{"x":0.00185,"y":0.00105},{"x":0.0015,"y":0.00102},{"x":0.002,"y":0.00176},{"x":0.00128,"y":0.00135},{"x":0.00132,"y":0.0015},{"x":0.00138,"y":0.00165},{"x":0.00136,"y":0.0012},
{"x":0.0014,"y":0.00115},{"x":0.00142,"y":0.00128},{"x":0.00143,"y":0.00141},{"x":0.00144,"y":0.00155},{"x":0.00145,"y":0.0017},{"x":0.00146,"y":0.00185},{"x":0.00147,"y":0.00108},{"x":0.00148,"y":0.00122},{"x":0.00149,"y":0.00135},{"x":0.0015,"y":0.00148},{"x":0.0015,"y":0.00162},{"x":0.00151,"y":0.00176},{"x":0.00152,"y":0.00193},{"x":0.00153,"y":0.00113},{"x":0.00154,"y":0.00127},{"x":0.00155,"y":0.00141},{"x":0.00155,"y":0.00155},{"x":0.00156,"y":0.00169},{"x":0.00157,"y":0.00183},{"x":0.00158,"y":0.00199},{"x":0.00159,"y":0.00106},{"x":0.0016,"y":0.0012},{"x":0.0016,"y":0.00134},{"x":0.00161,"y":0.00148},{"x":0.00162,"y":0.00161},{"x":0.00163,"y":0.00175},{"x":0.00163,"y":0.00189},{"x":0.00164,"y":0.00203},{"x":0.00165,"y":0.00112},{"x":0.00166,"y":0.00126},{"x":0.00167,"y":0.0014},{"x":0.00167,"y":0.00154},{"x":0.00168,"y":0.00168},{"x":0.00169,"y":0.00182},{"x":0.0017,"y":0.00196},{"x":0.00171,"y":0.00118},{"x":0.00172,"y":0.00132},{"x":0.00173,"y":0.00146},{"x":0.00173,"y":0.0016},{"x":0.00174,"y":0.00174},{"x":0.00175,"y":0.00188},{"x":0.00176,"y":0.00124},{"x":0.00177,"y":0.00138},{"x":0.00178,"y":0.00152},{"x":0.00179,"y":0.00166},{"x":0.0018,"y":0.0018},{"x":0.00182,"y":0.0013},{"x":0.00183,"y":0.00145},{"x":0.00184,"y":0.0016},{"x":0.00186,"y":0.00174},{"x":0.00138,"y":0.00178},{"x":0.00141,"y":0.00192},{"x":0.00148,"y":0.002},{"x":0.00153,"y":0.00168},{"x":0.00157,"y":0.0013},{"x":0.00165,"y":0.00145},{"x":0.00171,"y":0.00158},{"x":0.00176,"y":0.00115},{"x":0.00181,"y":0.00121},{"x":0.00187,"y":0.0015},{"x":0.0019,"y":0.00162},{"x":0.00192,"y":0.00185},{"x":0.00134,"y":0.00125},{"x":0.00137,"y":0.00142},{"x":0.00139,"y":0.00158},{"x":0.00146,"y":0.00146},{"x":0.00152,"y":0.00118},{"x":0.00158,"y":0.0015},{"x":0.00162,"y":0.00115},{"x":0.00166,"y":0.00186},{"x":0.00169,"y":0.00128},{"x":0.00172,"y":0.00205},{"x":0.00178,"y":0.00195},{"x":0.00159,"y":0.00177},{"x":0.00164,"y":0.00138},
{"x":0.00143,"y":0.00118},{"x":0.00147,"y":0.00131},{"x":0.00146,"y":0.00162},{"x":0.00148,"y":0.00177},{"x":0.00151,"y":0.00109},{"x":0.00152,"y":0.00138},{"x":0.00153,"y":0.00152},{"x":0.00154,"y":0.00182},{"x":0.00156,"y":0.00121},{"x":0.00157,"y":0.00161},{"x":0.00158,"y":0.00191},{"x":0.00159,"y":0.00142},{"x":0.00161,"y":0.00127},{"x":0.00161,"y":0.00168},{"x":0.00162,"y":0.00196},{"x":0.00163,"y":0.00109},{"x":0.00164,"y":0.00154},{"x":0.00165,"y":0.00181},{"x":0.00166,"y":0.00133},{"x":0.00167,"y":0.00162},{"x":0.00168,"y":0.00117},{"x":0.00168,"y":0.00148},{"x":0.00169,"y":0.00175},{"x":0.0017,"y":0.00203},{"x":0.00171,"y":0.00139},{"x":0.00172,"y":0.00165},{"x":0.00173,"y":0.00124},{"x":0.00174,"y":0.00189},{"x":0.00175,"y":0.00153},{"x":0.00176,"y":0.00171},{"x":0.00177,"y":0.00131},{"x":0.00178,"y":0.00183},{"x":0.00179,"y":0.00144},{"x":0.0018,"y":0.00159},{"x":0.00181,"y":0.00137},{"x":0.00182,"y":0.00172},{"x":0.00183,"y":0.00118},{"x":0.00185,"y":0.00166},{"x":0.00186,"y":0.00142},{"x":0.00188,"y":0.00127},{"x":0.00149,"y":0.00188},{"x":0.00151,"y":0.00201},{"x":0.00155,"y":0.00196},{"x":0.00144,"y":0.00168},{"x":0.00142,"y":0.00148},{"x":0.0014,"y":0.00135},{"x":0.00145,"y":0.00125},{"x":0.0016,"y":0.00185},{"x":0.00157,"y":0.00114},{"x":0.00154,"y":0.00171},{"x":0.00166,"y":0.00193},{"x":0.00171,"y":0.00183},{"x":0.00163,"y":0.00146},{"x":0.00158,"y":0.00157},{"x":0.00172,"y":0.00144},{"x":0.00175,"y":0.00113},{"x":0.00169,"y":0.00107},{"x":0.00179,"y":0.00199},{"x":0.00184,"y":0.00186},{"x":0.00147,"y":0.00152},
{"x":0.0015,"y":0.0013},{"x":0.00155,"y":0.00135},{"x":0.0016,"y":0.0014},{"x":0.00165,"y":0.0015},{"x":0.0017,"y":0.0015},{"x":0.0016,"y":0.0016},{"x":0.00155,"y":0.00165},{"x":0.00165,"y":0.0017},{"x":0.0017,"y":0.00175},{"x":0.0016,"y":0.0018},{"x":0.00155,"y":0.00185},{"x":0.00165,"y":0.0019},{"x":0.0015,"y":0.00175},{"x":0.00145,"y":0.0016},{"x":0.00175,"y":0.00165},{"x":0.00175,"y":0.00145},{"x":0.0017,"y":0.00135},{"x":0.00165,"y":0.0012},{"x":0.00155,"y":0.0012},{"x":0.0016,"y":0.0011},{"x":0.0017,"y":0.0011},{"x":0.0015,"y":0.0014},{"x":0.00145,"y":0.00135},{"x":0.0018,"y":0.0015},{"x":0.0018,"y":0.0017},{"x":0.00175,"y":0.0018},{"x":0.0017,"y":0.0019},{"x":0.0016,"y":0.00195},{"x":0.0015,"y":0.0019},{"x":0.00145,"y":0.0018}
],
"rmsd":[
{"site":"AAOT","nm":412,"v":0.00155},{"site":"AAOT","nm":443,"v":0.00106},{"site":"AAOT","nm":488,"v":0.00094},{"site":"AAOT","nm":531,"v":0.00094},{"site":"AAOT","nm":547,"v":0.00088},{"site":"AAOT","nm":667,"v":0.00042},
{"site":"MOBY","nm":412,"v":0.00117},{"site":"MOBY","nm":443,"v":0.00092},{"site":"MOBY","nm":488,"v":0.00059},{"site":"MOBY","nm":531,"v":0.00028},{"site":"MOBY","nm":547,"v":0.00025},{"site":"MOBY","nm":667,"v":0.00005}
],
"psi":[
{"site":"AAOT","nm":412,"v":33},{"site":"AAOT","nm":443,"v":17.8},{"site":"AAOT","nm":488,"v":12.1},{"site":"AAOT","nm":531,"v":11},{"site":"AAOT","nm":547,"v":11.1},{"site":"AAOT","nm":667,"v":34.8},
{"site":"MOBY","nm":412,"v":7.8},{"site":"MOBY","nm":443,"v":7.3},{"site":"MOBY","nm":488,"v":7.2},{"site":"MOBY","nm":531,"v":9.8},{"site":"MOBY","nm":547,"v":13},{"site":"MOBY","nm":667,"v":42.8}
]
},
"columns":3,
"spacing":{"row":84,"column":116},
"bounds":"flush",
"concat":[
{
"width":230,"height":230,
"resolve":{"axis":{"x":"independent","y":"independent"}},
"layer":[
{"data":{"name":"p1"},"mark":{"type":"point","shape":"circle","filled":false,"color":"#000","strokeWidth":1.4,"size":100,"opacity":1},
 "encoding":{
  "x":{"field":"x","type":"quantitative","scale":{"domain":[0,0.02],"nice":false,"zero":false},"axis":{"orient":"bottom","values":[0,0.005,0.01,0.015,0.02],"format":".3f","title":"AAOT − 443 nm","tickSize":-5,"labelPadding":15,"titlePadding":-2}},
  "y":{"field":"y","type":"quantitative","scale":{"domain":[0,0.02],"nice":false,"zero":false},"axis":{"orient":"left","values":[0,0.005,0.01,0.015,0.02],"format":".3f","title":"MOD − 443 nm","tickSize":-5,"labelPadding":10,"titlePadding":8}}}},
{"data":{"values":[{}]},"mark":{"type":"rule","color":"#000","strokeWidth":1,"strokeDash":[12,14]},
 "encoding":{
  "x":{"datum":0,"type":"quantitative","scale":{"domain":[0,0.02],"nice":false,"zero":false},"axis":{"orient":"top","values":[0,0.005,0.01,0.015,0.02],"labels":false,"title":null,"tickSize":-5}},
  "y":{"datum":0,"type":"quantitative","scale":{"domain":[0,0.02],"nice":false,"zero":false},"axis":{"orient":"right","values":[0,0.005,0.01,0.015,0.02],"labels":false,"title":null,"tickSize":-5}},
  "x2":{"datum":0.019},"y2":{"datum":0.019}}},
{"data":{"values":[{}]},"mark":{"type":"rule","color":"#fff","strokeWidth":1.3,"strokeDash":[12,14]},
 "encoding":{
  "x":{"datum":0.0017,"type":"quantitative","scale":{"domain":[0,0.02],"nice":false,"zero":false},"axis":{"orient":"bottom","values":[0.001,0.002,0.003,0.004,0.006,0.007,0.008,0.009,0.011,0.012,0.013,0.014,0.016,0.017,0.018,0.019],"labels":false,"title":null,"tickSize":-2.5}},
  "y":{"datum":0.0017,"type":"quantitative","scale":{"domain":[0,0.02],"nice":false,"zero":false},"axis":{"orient":"left","values":[0.001,0.002,0.003,0.004,0.006,0.007,0.008,0.009,0.011,0.012,0.013,0.014,0.016,0.017,0.018,0.019],"labels":false,"title":null,"tickSize":-2.5}},
  "x2":{"datum":0.0072},"y2":{"datum":0.0072}}},
{"data":{"values":[{}]},"mark":{"type":"text","text":["N=879","r²=0.86","Δ=0.0011","|Ψ|=18%","Ψ=−7%"],"fontSize":16,"align":"left","baseline":"top","lineHeight":20.5},
 "encoding":{
  "x":{"datum":0.013,"type":"quantitative","scale":{"domain":[0,0.02],"nice":false,"zero":false},"axis":{"orient":"top","values":[0.001,0.002,0.003,0.004,0.006,0.007,0.008,0.009,0.011,0.012,0.013,0.014,0.016,0.017,0.018,0.019],"labels":false,"title":null,"tickSize":-2.5}},
  "y":{"datum":0.00913,"type":"quantitative","scale":{"domain":[0,0.02],"nice":false,"zero":false},"axis":{"orient":"right","values":[0.001,0.002,0.003,0.004,0.006,0.007,0.008,0.009,0.011,0.012,0.013,0.014,0.016,0.017,0.018,0.019],"labels":false,"title":null,"tickSize":-2.5}}}},
{"data":{"values":[{}]},"mark":{"type":"text","text":"R","fontSize":17,"align":"left","baseline":"alphabetic"},
 "encoding":{"x":{"datum":0.00426,"type":"quantitative","scale":{"domain":[0,0.02],"nice":false,"zero":false},"axis":null},"y":{"datum":0.0207,"type":"quantitative","scale":{"domain":[0,0.02],"nice":false,"zero":false},"axis":null}}},
{"data":{"values":[{}]},"mark":{"type":"text","text":"RS","fontSize":11,"align":"left","baseline":"alphabetic"},
 "encoding":{"x":{"datum":0.0053,"type":"quantitative","scale":{"domain":[0,0.02],"nice":false,"zero":false},"axis":null},"y":{"datum":0.02035,"type":"quantitative","scale":{"domain":[0,0.02],"nice":false,"zero":false},"axis":null}}},
{"data":{"values":[{}]},"mark":{"type":"text","text":"−\u00a0\u00a0443\u00a0\u00a0nm","fontSize":17,"align":"left","baseline":"alphabetic"},
 "encoding":{"x":{"datum":0.00704,"type":"quantitative","scale":{"domain":[0,0.02],"nice":false,"zero":false},"axis":null},"y":{"datum":0.0207,"type":"quantitative","scale":{"domain":[0,0.02],"nice":false,"zero":false},"axis":null}}}
]
},
{
"width":230,"height":230,
"resolve":{"axis":{"x":"independent","y":"independent"}},
"layer":[
{"data":{"name":"p2"},"mark":{"type":"point","shape":"circle","filled":false,"color":"#000","strokeWidth":1.4,"size":100,"opacity":1},
 "encoding":{
  "x":{"field":"x","type":"quantitative","scale":{"domain":[0,0.028],"nice":false,"zero":false},"axis":{"orient":"bottom","values":[0,0.005,0.01,0.015,0.02,0.025],"format":".3f","title":"AAOT − 547 nm","tickSize":-5,"labelPadding":15,"titlePadding":-2}},
  "y":{"field":"y","type":"quantitative","scale":{"domain":[0,0.028],"nice":false,"zero":false},"axis":{"orient":"left","values":[0,0.005,0.01,0.015,0.02,0.025],"format":".3f","title":"MOD − 547 nm","tickSize":-5,"labelPadding":10,"titlePadding":8}}}},
{"data":{"values":[{}]},"mark":{"type":"rule","color":"#000","strokeWidth":1,"strokeDash":[12,14]},
 "encoding":{
  "x":{"datum":0,"type":"quantitative","scale":{"domain":[0,0.028],"nice":false,"zero":false},"axis":{"orient":"top","values":[0,0.005,0.01,0.015,0.02,0.025],"labels":false,"title":null,"tickSize":-5}},
  "y":{"datum":0,"type":"quantitative","scale":{"domain":[0,0.028],"nice":false,"zero":false},"axis":{"orient":"right","values":[0,0.005,0.01,0.015,0.02,0.025],"labels":false,"title":null,"tickSize":-5}},
  "x2":{"datum":0.0265},"y2":{"datum":0.0265}}},
{"data":{"values":[{}]},"mark":{"type":"rule","color":"#fff","strokeWidth":1.3,"strokeDash":[12,14]},
 "encoding":{
  "x":{"datum":0.0022,"type":"quantitative","scale":{"domain":[0,0.028],"nice":false,"zero":false},"axis":{"orient":"bottom","values":[0.001,0.002,0.003,0.004,0.006,0.007,0.008,0.009,0.011,0.012,0.013,0.014,0.016,0.017,0.018,0.019,0.021,0.022,0.023,0.024,0.026,0.027],"labels":false,"title":null,"tickSize":-2.5}},
  "y":{"datum":0.0022,"type":"quantitative","scale":{"domain":[0,0.028],"nice":false,"zero":false},"axis":{"orient":"left","values":[0.001,0.002,0.003,0.004,0.006,0.007,0.008,0.009,0.011,0.012,0.013,0.014,0.016,0.017,0.018,0.019,0.021,0.022,0.023,0.024,0.026,0.027],"labels":false,"title":null,"tickSize":-2.5}},
  "x2":{"datum":0.0104},"y2":{"datum":0.0104}}},
{"data":{"values":[{}]},"mark":{"type":"text","text":["N=879","r²=0.95","Δ=0.00089","|Ψ|=11%","Ψ=−7%"],"fontSize":16,"align":"left","baseline":"top","lineHeight":20.7},
 "encoding":{
  "x":{"datum":0.00085,"type":"quantitative","scale":{"domain":[0,0.028],"nice":false,"zero":false},"axis":{"orient":"top","values":[0.001,0.002,0.003,0.004,0.006,0.007,0.008,0.009,0.011,0.012,0.013,0.014,0.016,0.017,0.018,0.019,0.021,0.022,0.023,0.024,0.026,0.027],"labels":false,"title":null,"tickSize":-2.5}},
  "y":{"datum":0.02715,"type":"quantitative","scale":{"domain":[0,0.028],"nice":false,"zero":false},"axis":{"orient":"right","values":[0.001,0.002,0.003,0.004,0.006,0.007,0.008,0.009,0.011,0.012,0.013,0.014,0.016,0.017,0.018,0.019,0.021,0.022,0.023,0.024,0.026,0.027],"labels":false,"title":null,"tickSize":-2.5}}}},
{"data":{"values":[{}]},"mark":{"type":"text","text":"R","fontSize":17,"align":"left","baseline":"alphabetic"},
 "encoding":{"x":{"datum":0.00597,"type":"quantitative","scale":{"domain":[0,0.028],"nice":false,"zero":false},"axis":null},"y":{"datum":0.02897,"type":"quantitative","scale":{"domain":[0,0.028],"nice":false,"zero":false},"axis":null}}},
{"data":{"values":[{}]},"mark":{"type":"text","text":"RS","fontSize":11,"align":"left","baseline":"alphabetic"},
 "encoding":{"x":{"datum":0.00743,"type":"quantitative","scale":{"domain":[0,0.028],"nice":false,"zero":false},"axis":null},"y":{"datum":0.02849,"type":"quantitative","scale":{"domain":[0,0.028],"nice":false,"zero":false},"axis":null}}},
{"data":{"values":[{}]},"mark":{"type":"text","text":"−\u00a0\u00a0547\u00a0\u00a0nm","fontSize":17,"align":"left","baseline":"alphabetic"},
 "encoding":{"x":{"datum":0.00986,"type":"quantitative","scale":{"domain":[0,0.028],"nice":false,"zero":false},"axis":null},"y":{"datum":0.02897,"type":"quantitative","scale":{"domain":[0,0.028],"nice":false,"zero":false},"axis":null}}}
]
},
{
"width":230,"height":230,
"resolve":{"axis":{"x":"independent","y":"independent"}},
"layer":[
{"data":{"name":"rmsd"},"mark":{"type":"line","color":"#000","strokeWidth":1.8},
 "encoding":{
  "x":{"field":"nm","type":"quantitative","scale":{"domain":[400,700],"nice":false,"zero":false},"axis":{"orient":"bottom","values":[400,450,500,550,600,650,700],"format":"d","title":"[nm]","tickSize":-5,"labelPadding":15,"titlePadding":5}},
  "y":{"field":"v","type":"quantitative","scale":{"domain":[0,0.0018],"nice":false,"zero":false},"axis":{"orient":"left","values":[0,0.0005,0.001,0.0015],"format":".4f","title":"[sr⁻¹]","tickSize":-5,"labelPadding":10,"titlePadding":16}},
  "strokeDash":{"field":"site","type":"nominal","scale":{"domain":["MOBY","AAOT"],"range":[[12,14],[1,0]]},"legend":null}}},
{"data":{"values":[{}]},"mark":{"type":"text","text":"MOBY","fontSize":17,"align":"left","baseline":"middle"},
 "encoding":{
  "x":{"datum":558,"type":"quantitative","scale":{"domain":[400,700],"nice":false,"zero":false},"axis":{"orient":"top","values":[400,450,500,550,600,650,700],"labels":false,"title":null,"tickSize":-5}},
  "y":{"datum":0.001659,"type":"quantitative","scale":{"domain":[0,0.0018],"nice":false,"zero":false},"axis":{"orient":"right","values":[0,0.0005,0.001,0.0015],"labels":false,"title":null,"tickSize":-5}}}},
{"data":{"values":[{}]},"mark":{"type":"text","text":"AAOT","fontSize":17,"align":"left","baseline":"middle"},
 "encoding":{
  "x":{"datum":558,"type":"quantitative","scale":{"domain":[400,700],"nice":false,"zero":false},"axis":{"orient":"bottom","values":[410,420,430,440,460,470,480,490,510,520,530,540,560,570,580,590,610,620,630,640,660,670,680,690],"labels":false,"title":null,"tickSize":-2.5}},
  "y":{"datum":0.001471,"type":"quantitative","scale":{"domain":[0,0.0018],"nice":false,"zero":false},"axis":{"orient":"left","values":[0.0001,0.0002,0.0003,0.0004,0.0006,0.0007,0.0008,0.0009,0.0011,0.0012,0.0013,0.0014,0.0016,0.0017],"labels":false,"title":null,"tickSize":-2.5}}}},
{"data":{"values":[{}]},"mark":{"type":"rule","color":"#000","strokeWidth":1.8,"strokeDash":[13,12]},
 "encoding":{
  "x":{"datum":631,"type":"quantitative","scale":{"domain":[400,700],"nice":false,"zero":false},"axis":{"orient":"top","values":[410,420,430,440,460,470,480,490,510,520,530,540,560,570,580,590,610,620,630,640,660,670,680,690],"labels":false,"title":null,"tickSize":-2.5}},
  "x2":{"datum":683},
  "y":{"datum":0.001659,"type":"quantitative","scale":{"domain":[0,0.0018],"nice":false,"zero":false},"axis":{"orient":"right","values":[0.0001,0.0002,0.0003,0.0004,0.0006,0.0007,0.0008,0.0009,0.0011,0.0012,0.0013,0.0014,0.0016,0.0017],"labels":false,"title":null,"tickSize":-2.5}}}},
{"data":{"values":[{}]},"mark":{"type":"rule","color":"#000","strokeWidth":1.8},
 "encoding":{"x":{"datum":631,"type":"quantitative","scale":{"domain":[400,700],"nice":false,"zero":false},"axis":null},"x2":{"datum":683},"y":{"datum":0.001471,"type":"quantitative","scale":{"domain":[0,0.0018],"nice":false,"zero":false},"axis":null}}},
{"data":{"values":[{}]},"mark":{"type":"text","text":"RMSD","fontSize":15,"align":"center","baseline":"alphabetic"},
 "encoding":{"x":{"datum":550,"type":"quantitative","scale":{"domain":[400,700],"nice":false,"zero":false},"axis":null},"y":{"datum":0.001863,"type":"quantitative","scale":{"domain":[0,0.0018],"nice":false,"zero":false},"axis":null}}},
{"data":{"values":[{}]},"mark":{"type":"text","text":"N. Adriatic","font":"Liberation Sans","fontWeight":"bold","fontSize":44,"color":"#00B050","align":"left","baseline":"alphabetic"},
 "encoding":{"x":{"datum":604,"type":"quantitative","scale":{"domain":[400,700],"nice":false,"zero":false},"axis":null},"y":{"datum":0.000681,"type":"quantitative","scale":{"domain":[0,0.0018],"nice":false,"zero":false},"axis":null}}},
{"data":{"values":[{}]},"mark":{"type":"text","text":"MOBY","font":"Liberation Sans","fontWeight":"bold","fontSize":40,"color":"#70B0FF","align":"left","baseline":"alphabetic"},
 "encoding":{"x":{"datum":653,"type":"quantitative","scale":{"domain":[400,700],"nice":false,"zero":false},"axis":null},"y":{"datum":0.00007,"type":"quantitative","scale":{"domain":[0,0.0018],"nice":false,"zero":false},"axis":null}}}
]
},
{
"width":230,"height":230,
"resolve":{"axis":{"x":"independent","y":"independent"}},
"layer":[
{"data":{"name":"p4"},"mark":{"type":"point","shape":"circle","filled":false,"color":"#000","strokeWidth":1.4,"size":100,"opacity":1},
 "encoding":{
  "x":{"field":"x","type":"quantitative","scale":{"domain":[0,0.02],"nice":false,"zero":false},"axis":{"orient":"bottom","values":[0,0.005,0.01,0.015,0.02],"format":".3f","title":"MOBy − 443 nm","tickSize":-5,"labelPadding":15,"titlePadding":-2}},
  "y":{"field":"y","type":"quantitative","scale":{"domain":[0,0.02],"nice":false,"zero":false},"axis":{"orient":"left","values":[0,0.005,0.01,0.015,0.02],"format":".3f","title":"MOD − 443 nm","tickSize":-5,"labelPadding":10,"titlePadding":8}}}},
{"data":{"values":[{}]},"mark":{"type":"rule","color":"#000","strokeWidth":1,"strokeDash":[12,14]},
 "encoding":{
  "x":{"datum":0,"type":"quantitative","scale":{"domain":[0,0.02],"nice":false,"zero":false},"axis":{"orient":"top","values":[0,0.005,0.01,0.015,0.02],"labels":false,"title":null,"tickSize":-5}},
  "y":{"datum":0,"type":"quantitative","scale":{"domain":[0,0.02],"nice":false,"zero":false},"axis":{"orient":"right","values":[0,0.005,0.01,0.015,0.02],"labels":false,"title":null,"tickSize":-5}},
  "x2":{"datum":0.019},"y2":{"datum":0.019}}},
{"data":{"values":[{}]},"mark":{"type":"rule","color":"#fff","strokeWidth":1.3,"strokeDash":[12,14]},
 "encoding":{
  "x":{"datum":0.0075,"type":"quantitative","scale":{"domain":[0,0.02],"nice":false,"zero":false},"axis":{"orient":"bottom","values":[0.001,0.002,0.003,0.004,0.006,0.007,0.008,0.009,0.011,0.012,0.013,0.014,0.016,0.017,0.018,0.019],"labels":false,"title":null,"tickSize":-2.5}},
  "y":{"datum":0.0075,"type":"quantitative","scale":{"domain":[0,0.02],"nice":false,"zero":false},"axis":{"orient":"left","values":[0.001,0.002,0.003,0.004,0.006,0.007,0.008,0.009,0.011,0.012,0.013,0.014,0.016,0.017,0.018,0.019],"labels":false,"title":null,"tickSize":-2.5}},
  "x2":{"datum":0.0105},"y2":{"datum":0.0105}}},
{"data":{"values":[{}]},"mark":{"type":"text","text":["N=370","r²=0.48","Δ=0.00088","|Ψ|=7%","Ψ=−3%"],"fontSize":16,"align":"left","baseline":"top","lineHeight":23},
 "encoding":{
  "x":{"datum":0.00061,"type":"quantitative","scale":{"domain":[0,0.02],"nice":false,"zero":false},"axis":{"orient":"top","values":[0.001,0.002,0.003,0.004,0.006,0.007,0.008,0.009,0.011,0.012,0.013,0.014,0.016,0.017,0.018,0.019],"labels":false,"title":null,"tickSize":-2.5}},
  "y":{"datum":0.01939,"type":"quantitative","scale":{"domain":[0,0.02],"nice":false,"zero":false},"axis":{"orient":"right","values":[0.001,0.002,0.003,0.004,0.006,0.007,0.008,0.009,0.011,0.012,0.013,0.014,0.016,0.017,0.018,0.019],"labels":false,"title":null,"tickSize":-2.5}}}},
{"data":{"values":[{}]},"mark":{"type":"text","text":"R","fontSize":17,"align":"left","baseline":"alphabetic"},
 "encoding":{"x":{"datum":0.00426,"type":"quantitative","scale":{"domain":[0,0.02],"nice":false,"zero":false},"axis":null},"y":{"datum":0.0207,"type":"quantitative","scale":{"domain":[0,0.02],"nice":false,"zero":false},"axis":null}}},
{"data":{"values":[{}]},"mark":{"type":"text","text":"rs","fontSize":11,"align":"left","baseline":"alphabetic"},
 "encoding":{"x":{"datum":0.0053,"type":"quantitative","scale":{"domain":[0,0.02],"nice":false,"zero":false},"axis":null},"y":{"datum":0.02035,"type":"quantitative","scale":{"domain":[0,0.02],"nice":false,"zero":false},"axis":null}}},
{"data":{"values":[{}]},"mark":{"type":"text","text":"−\u00a0\u00a0443\u00a0\u00a0nm","fontSize":17,"align":"left","baseline":"alphabetic"},
 "encoding":{"x":{"datum":0.00704,"type":"quantitative","scale":{"domain":[0,0.02],"nice":false,"zero":false},"axis":null},"y":{"datum":0.0207,"type":"quantitative","scale":{"domain":[0,0.02],"nice":false,"zero":false},"axis":null}}}
]
},
{
"width":230,"height":230,
"resolve":{"axis":{"x":"independent","y":"independent"}},
"layer":[
{"data":{"name":"p5"},"mark":{"type":"point","shape":"circle","filled":false,"color":"#000","strokeWidth":1.4,"size":100,"opacity":1},
 "encoding":{
  "x":{"field":"x","type":"quantitative","scale":{"domain":[0,0.005],"nice":false,"zero":false},"axis":{"orient":"bottom","values":[0,0.001,0.002,0.003,0.004,0.005],"format":".3f","title":"MOBy − 547 nm","tickSize":-5,"labelPadding":15,"titlePadding":-2}},
  "y":{"field":"y","type":"quantitative","scale":{"domain":[0,0.005],"nice":false,"zero":false},"axis":{"orient":"left","values":[0,0.001,0.002,0.003,0.004,0.005],"format":".3f","title":"MOD − 547 nm","tickSize":-5,"labelPadding":10,"titlePadding":8}}}},
{"data":{"values":[{}]},"mark":{"type":"rule","color":"#000","strokeWidth":1,"strokeDash":[12,14]},
 "encoding":{
  "x":{"datum":0,"type":"quantitative","scale":{"domain":[0,0.005],"nice":false,"zero":false},"axis":{"orient":"top","values":[0,0.001,0.002,0.003,0.004,0.005],"labels":false,"title":null,"tickSize":-5}},
  "y":{"datum":0,"type":"quantitative","scale":{"domain":[0,0.005],"nice":false,"zero":false},"axis":{"orient":"right","values":[0,0.001,0.002,0.003,0.004,0.005],"labels":false,"title":null,"tickSize":-5}},
  "x2":{"datum":0.0048},"y2":{"datum":0.0048}}},
{"data":{"values":[{}]},"mark":{"type":"rule","color":"#fff","strokeWidth":1.3,"strokeDash":[12,14]},
 "encoding":{
  "x":{"datum":0.00125,"type":"quantitative","scale":{"domain":[0,0.005],"nice":false,"zero":false},"axis":{"orient":"bottom","values":[0.0002,0.0004,0.0006,0.0008,0.0012,0.0014,0.0016,0.0018,0.0022,0.0024,0.0026,0.0028,0.0032,0.0034,0.0036,0.0038,0.0042,0.0044,0.0046,0.0048],"labels":false,"title":null,"tickSize":-2.5}},
  "y":{"datum":0.00125,"type":"quantitative","scale":{"domain":[0,0.005],"nice":false,"zero":false},"axis":{"orient":"left","values":[0.0002,0.0004,0.0006,0.0008,0.0012,0.0014,0.0016,0.0018,0.0022,0.0024,0.0026,0.0028,0.0032,0.0034,0.0036,0.0038,0.0042,0.0044,0.0046,0.0048],"labels":false,"title":null,"tickSize":-2.5}},
  "x2":{"datum":0.0019},"y2":{"datum":0.0019}}},
{"data":{"values":[{}]},"mark":{"type":"text","text":["N=370","r²=0.02","Δ=0.00023","|Ψ|=11%","Ψ=−2%"],"fontSize":16,"align":"left","baseline":"top","lineHeight":23},
 "encoding":{
  "x":{"datum":0.00013,"type":"quantitative","scale":{"domain":[0,0.005],"nice":false,"zero":false},"axis":{"orient":"top","values":[0.0002,0.0004,0.0006,0.0008,0.0012,0.0014,0.0016,0.0018,0.0022,0.0024,0.0026,0.0028,0.0032,0.0034,0.0036,0.0038,0.0042,0.0044,0.0046,0.0048],"labels":false,"title":null,"tickSize":-2.5}},
  "y":{"datum":0.004848,"type":"quantitative","scale":{"domain":[0,0.005],"nice":false,"zero":false},"axis":{"orient":"right","values":[0.0002,0.0004,0.0006,0.0008,0.0012,0.0014,0.0016,0.0018,0.0022,0.0024,0.0026,0.0028,0.0032,0.0034,0.0036,0.0038,0.0042,0.0044,0.0046,0.0048],"labels":false,"title":null,"tickSize":-2.5}}}},
{"data":{"values":[{}]},"mark":{"type":"text","text":"R","fontSize":17,"align":"left","baseline":"alphabetic"},
 "encoding":{"x":{"datum":0.001065,"type":"quantitative","scale":{"domain":[0,0.005],"nice":false,"zero":false},"axis":null},"y":{"datum":0.005174,"type":"quantitative","scale":{"domain":[0,0.005],"nice":false,"zero":false},"axis":null}}},
{"data":{"values":[{}]},"mark":{"type":"text","text":"rs","fontSize":11,"align":"left","baseline":"alphabetic"},
 "encoding":{"x":{"datum":0.001326,"type":"quantitative","scale":{"domain":[0,0.005],"nice":false,"zero":false},"axis":null},"y":{"datum":0.005087,"type":"quantitative","scale":{"domain":[0,0.005],"nice":false,"zero":false},"axis":null}}},
{"data":{"values":[{}]},"mark":{"type":"text","text":"−\u00a0\u00a0547\u00a0\u00a0nm","fontSize":17,"align":"left","baseline":"alphabetic"},
 "encoding":{"x":{"datum":0.00176,"type":"quantitative","scale":{"domain":[0,0.005],"nice":false,"zero":false},"axis":null},"y":{"datum":0.005174,"type":"quantitative","scale":{"domain":[0,0.005],"nice":false,"zero":false},"axis":null}}}
]
},
{
"width":230,"height":230,
"resolve":{"axis":{"x":"independent","y":"independent"}},
"layer":[
{"data":{"name":"psi"},"mark":{"type":"line","color":"#000","strokeWidth":1.8},
 "encoding":{
  "x":{"field":"nm","type":"quantitative","scale":{"domain":[400,700],"nice":false,"zero":false},"axis":{"orient":"bottom","values":[400,450,500,550,600,650,700],"format":"d","title":"[nm]","tickSize":-5,"labelPadding":15,"titlePadding":5}},
  "y":{"field":"v","type":"quantitative","scale":{"domain":[0,50],"nice":false,"zero":false},"axis":{"orient":"left","values":[0,10,20,30,40,50],"format":"d","title":"[%]","tickSize":-5,"labelPadding":10,"titlePadding":14}},
  "strokeDash":{"field":"site","type":"nominal","scale":{"domain":["MOBY","AAOT"],"range":[[12,14],[1,0]]},"legend":null}}},
{"data":{"values":[{}]},"mark":{"type":"text","text":"MOBY","fontSize":17,"align":"left","baseline":"middle"},
 "encoding":{
  "x":{"datum":558,"type":"quantitative","scale":{"domain":[400,700],"nice":false,"zero":false},"axis":{"orient":"top","values":[400,450,500,550,600,650,700],"labels":false,"title":null,"tickSize":-5}},
  "y":{"datum":8.7,"type":"quantitative","scale":{"domain":[0,50],"nice":false,"zero":false},"axis":{"orient":"right","values":[0,10,20,30,40,50],"labels":false,"title":null,"tickSize":-5}}}},
{"data":{"values":[{}]},"mark":{"type":"text","text":"AAOT","fontSize":17,"align":"left","baseline":"middle"},
 "encoding":{
  "x":{"datum":558,"type":"quantitative","scale":{"domain":[400,700],"nice":false,"zero":false},"axis":{"orient":"bottom","values":[410,420,430,440,460,470,480,490,510,520,530,540,560,570,580,590,610,620,630,640,660,670,680,690],"labels":false,"title":null,"tickSize":-2.5}},
  "y":{"datum":3.26,"type":"quantitative","scale":{"domain":[0,50],"nice":false,"zero":false},"axis":{"orient":"left","values":[2,4,6,8,12,14,16,18,22,24,26,28,32,34,36,38,42,44,46,48],"labels":false,"title":null,"tickSize":-2.5}}}},
{"data":{"values":[{}]},"mark":{"type":"rule","color":"#000","strokeWidth":1.8,"strokeDash":[13,12]},
 "encoding":{
  "x":{"datum":631,"type":"quantitative","scale":{"domain":[400,700],"nice":false,"zero":false},"axis":{"orient":"top","values":[410,420,430,440,460,470,480,490,510,520,530,540,560,570,580,590,610,620,630,640,660,670,680,690],"labels":false,"title":null,"tickSize":-2.5}},
  "x2":{"datum":683},
  "y":{"datum":8.7,"type":"quantitative","scale":{"domain":[0,50],"nice":false,"zero":false},"axis":{"orient":"right","values":[2,4,6,8,12,14,16,18,22,24,26,28,32,34,36,38,42,44,46,48],"labels":false,"title":null,"tickSize":-2.5}}}},
{"data":{"values":[{}]},"mark":{"type":"rule","color":"#000","strokeWidth":1.8},
 "encoding":{"x":{"datum":631,"type":"quantitative","scale":{"domain":[400,700],"nice":false,"zero":false},"axis":null},"x2":{"datum":683},"y":{"datum":3.26,"type":"quantitative","scale":{"domain":[0,50],"nice":false,"zero":false},"axis":null}}},
{"data":{"values":[{}]},"mark":{"type":"text","text":"|Ψ|","fontSize":15,"align":"center","baseline":"alphabetic"},
 "encoding":{"x":{"datum":550,"type":"quantitative","scale":{"domain":[400,700],"nice":false,"zero":false},"axis":null},"y":{"datum":52.2,"type":"quantitative","scale":{"domain":[0,50],"nice":false,"zero":false},"axis":null}}},
{"data":{"values":[{}]},"mark":{"type":"text","text":"N. Adriatic","font":"Liberation Sans","fontWeight":"bold","fontSize":44,"color":"#00B050","align":"left","baseline":"alphabetic"},
 "encoding":{"x":{"datum":304,"type":"quantitative","scale":{"domain":[400,700],"nice":false,"zero":false},"axis":null},"y":{"datum":31.74,"type":"quantitative","scale":{"domain":[0,50],"nice":false,"zero":false},"axis":null}}},
{"data":{"values":[{}]},"mark":{"type":"text","text":"MOBY","font":"Liberation Sans","fontWeight":"bold","fontSize":40,"color":"#70B0FF","align":"left","baseline":"alphabetic"},
 "encoding":{"x":{"datum":331,"type":"quantitative","scale":{"domain":[400,700],"nice":false,"zero":false},"axis":null},"y":{"datum":-4.35,"type":"quantitative","scale":{"domain":[0,50],"nice":false,"zero":false},"axis":null}}}
]
}
]
}
